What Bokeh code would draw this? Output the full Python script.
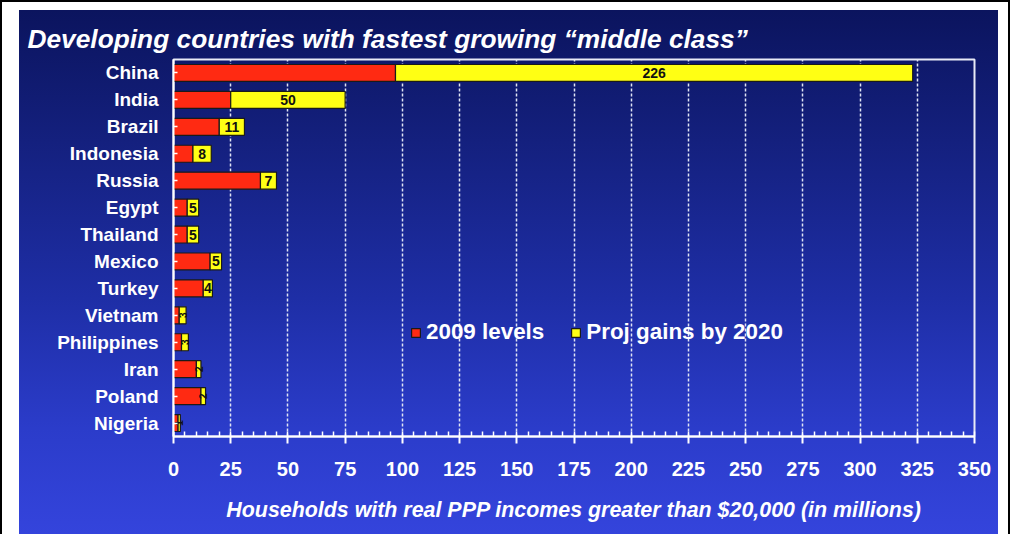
import numpy as np
from bokeh.plotting import figure
from bokeh.models import ColumnDataSource, Range1d, FixedTicker, Legend, LegendItem
from bokeh.core.properties import value
from bokeh.embed import file_html
from bokeh.resources import INLINE

countries = ["China", "India", "Brazil", "Indonesia", "Russia", "Egypt", "Thailand",
             "Mexico", "Turkey", "Vietnam", "Philippines", "Iran", "Poland", "Nigeria"]
levels_2009 = [97, 25, 20, 8.5, 38, 6, 6, 16, 13, 2.5, 3.5, 10, 12, 2]
gains_2020 = [226, 50, 11, 8, 7, 5, 5, 5, 4, 3, 3, 2, 2, 1]
x_ticks = [0, 25, 50, 75, 100, 125, 150, 175, 200, 225, 250, 275, 300, 325, 350]

RED = "#ff2a12"
YELLOW = "#ffff14"
FONT = "Liberation Sans"

src = ColumnDataSource(dict(
    country=countries,
    y2009=levels_2009,
    gain=gains_2020,
    mid=[a + b / 2 for a, b in zip(levels_2009, gains_2020)],
    lbl=[str(g) for g in gains_2020],
))
big = ColumnDataSource({k: [v for v, g in zip(src.data[k], gains_2020) if g >= 4] for k in src.data})
small = ColumnDataSource({k: [v for v, g in zip(src.data[k], gains_2020) if g < 4] for k in src.data})

p = figure(width=1010, height=534, y_range=list(reversed(countries)),
           x_range=Range1d(0, 350), output_backend="svg", toolbar_location=None,
           min_border_left=173, min_border_right=36, min_border_top=59, min_border_bottom=98,
           title="Developing countries with fastest growing \u201cmiddle class\u201d")

p.border_fill_color = None
p.background_fill_color = None
p.styles = {
    "background-color": "white",
    "background-image": "linear-gradient(to bottom, #0b145e 0%, #14207e 25%, #1e2ea6 55%, #2b3cca 80%, #3444dc 100%)",
    "background-size": "979px 524px",
    "background-position": "19px 10px",
    "background-repeat": "no-repeat",
    "box-shadow": "inset 2px 2px 0 0 #000, inset -2px 0 0 0 #000",
}

p.outline_line_color = "#e8eaf6"
p.outline_line_width = 2

r = p.hbar_stack(["y2009", "gain"], y="country", height=0.63, color=[RED, YELLOW],
                 line_color="#1a1a1a", line_width=1.2, source=src)

p.text(x="mid", y="country", text="lbl", source=big, text_align="center",
       text_baseline="middle", text_font=value(FONT), text_font_style="bold",
       text_font_size="14px", text_color="#111111")
p.text(x="mid", y="country", text="lbl", source=small, text_align="center",
       text_baseline="middle", text_font=value(FONT), text_font_style="bold",
       text_font_size="10px", text_color="#111111", angle=np.pi / 2)

# title
p.title.text_color = "white"
p.title.text_font = FONT
p.title.text_font_size = "26.3px"
p.title.text_font_style = "bold italic"
p.title.align = "left"
p.title.offset = -146
p.title.standoff = 11

# x axis
xa = p.xaxis[0]
xa.ticker = FixedTicker(ticks=x_ticks, minor_ticks=list(range(0, 351, 5)))
xa.axis_line_color = "white"
xa.axis_line_width = 2
xa.major_tick_line_color = "white"
xa.major_tick_line_width = 2
xa.major_tick_in = 0
xa.major_tick_out = 7
xa.minor_tick_line_color = "white"
xa.minor_tick_line_width = 1.5
xa.minor_tick_in = 5
xa.minor_tick_out = 0
xa.major_label_text_color = "white"
xa.major_label_text_font = FONT
xa.major_label_text_font_style = "bold"
xa.major_label_text_font_size = "20px"
xa.major_label_standoff = 18
xa.axis_label = "Households with real PPP incomes greater than $20,000 (in millions)"
xa.axis_label_text_color = "white"
xa.axis_label_text_font = FONT
xa.axis_label_text_font_style = "bold italic"
xa.axis_label_text_font_size = "21.4px"
xa.axis_label_standoff = 19

# y axis
ya = p.yaxis[0]
ya.axis_line_color = "white"
ya.axis_line_width = 2
ya.major_tick_line_color = "white"
ya.major_tick_line_width = 1.5
ya.major_tick_in = 4
ya.major_tick_out = 0
ya.major_label_text_color = "white"
ya.major_label_text_font = FONT
ya.major_label_text_font_style = "bold"
ya.major_label_text_font_size = "19px"
ya.major_label_standoff = 15

p.xgrid.grid_line_color = "#e0e4f4"
p.xgrid.grid_line_width = 1.5
p.xgrid.grid_line_dash = "3 2"
p.ygrid.visible = False

legend = Legend(items=[LegendItem(label="2009 levels", renderers=[r[0]]),
                       LegendItem(label="Proj gains by 2020", renderers=[r[1]])],
                location=(237, 91), orientation="horizontal",
                background_fill_alpha=0, border_line_alpha=0,
                label_text_color="white", label_text_font=FONT,
                label_text_font_style="bold", label_text_font_size="22.4px",
                glyph_width=11, glyph_height=11, label_standoff=5, spacing=26,
                padding=0, margin=0, label_height=20)
p.add_layout(legend, "center")

open("out.html", "w").write(file_html(p, INLINE))
